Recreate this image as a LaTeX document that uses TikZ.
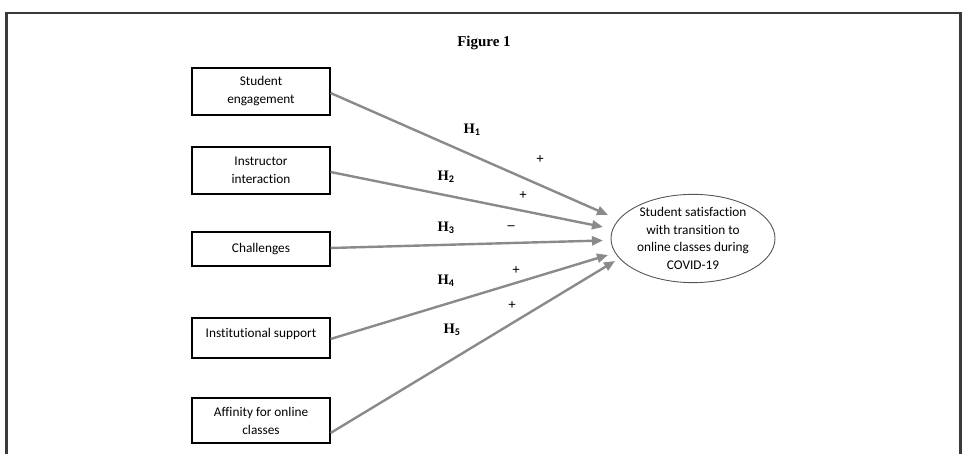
\documentclass[tikz,border=0pt]{standalone}
\usepackage{fontspec}
\setmainfont{Carlito}[Ligatures={NoCommon}]
\newfontfamily\serifbold{Liberation Serif}[BoldFont={* Bold}]
\usetikzlibrary{shapes.geometric,arrows.meta}
\definecolor{framegray}{HTML}{3A3A3A}
\definecolor{arrowgray}{HTML}{8A8A8A}
\definecolor{ovalgray}{HTML}{555555}
\tikzset{
  factor/.style={draw=black, line width=1.1pt, minimum width=138pt, inner sep=2pt,
    align=center, font=\fontsize{13.3}{18}\selectfont},
  outcome/.style={ellipse, draw=ovalgray, line width=0.9pt, minimum width=164pt,
    minimum height=87pt, inner sep=0pt, align=center, font=\fontsize{13.3}{17.7}\selectfont},
  path link/.style={draw=arrowgray, line width=2.4pt,
    -{Triangle[length=11pt,width=9pt]}},
  hyp/.style={font=\serifbold\bfseries\fontsize{14.5}{14.5}\selectfont},
  sign/.style={font=\serifbold\bfseries\fontsize{14}{14}\selectfont},
}
\begin{document}
\begin{tikzpicture}[x=1pt,y=-1pt]
  \useasboundingbox (0,0) rectangle (964,454);
  % open frame around the figure
  \draw[framegray, line width=2.8pt] (6.5,460) -- (6.5,13) -- (960.5,13) -- (960.5,460);
  \node[font=\serifbold\bfseries\fontsize{15}{15}\selectfont] (title) at (484,43) {Figure 1};

  % predictor boxes
  \node[factor, minimum height=47pt] (b1) at (261,91.5) {Student\\engagement};
  \node[factor, minimum height=47pt] (b2) at (261,170.5) {Instructor\\interaction};
  \node[factor, minimum height=34pt] (b3) at (261,249) {Challenges};
  \node[factor, minimum height=40pt, text depth=10pt] (b4) at (261,338) {Institutional support};
  \node[factor, minimum height=45pt] (b5) at (261,420.5) {Affinity for online\\classes};

  % outcome
  \node[outcome] (sat) at (693,238.5) {Student satisfaction\\with transition to\\online classes during\\COVID-19};

  % arrow tips just short of the outcome oval
  \coordinate (t1) at (608,215);
  \coordinate (t2) at (603,227);
  \coordinate (t3) at (603,240.5);
  \coordinate (t4) at (608,255);
  \coordinate (t5) at (615,261);

  \draw[path link] ([yshift=-1.5pt]b1.east) -- (t1);
  \draw[path link] ([yshift=-1.5pt]b2.east) -- (t2);
  \draw[path link] ([yshift=1pt]b3.east) -- (t3);
  \draw[path link] ([yshift=-1pt]b4.east) -- (t4);
  \draw[path link] ([yshift=-12.5pt]b5.east) -- (t5);

  % hypothesis labels and signs
  \node[hyp] (h1) at (472,130) {H$_{\mathbf 1}$};
  \node[hyp] (h2) at (446,177) {H$_{\mathbf 2}$};
  \node[hyp] (h3) at (446,228) {H$_{\mathbf 3}$};
  \node[hyp] (h4) at (446,281) {H$_{\mathbf 4}$};
  \node[hyp] (h5) at (452,330) {H$_{\mathbf 5}$};
  \node[sign] (s1) at (540,160) {+};
  \node[sign] (s2) at (523,196) {+};
  \node[sign] (s3) at (511,228) {–};
  \node[sign] (s4) at (516,271) {+};
  \node[sign] (s5) at (512,306) {+};
\end{tikzpicture}
\end{document}
